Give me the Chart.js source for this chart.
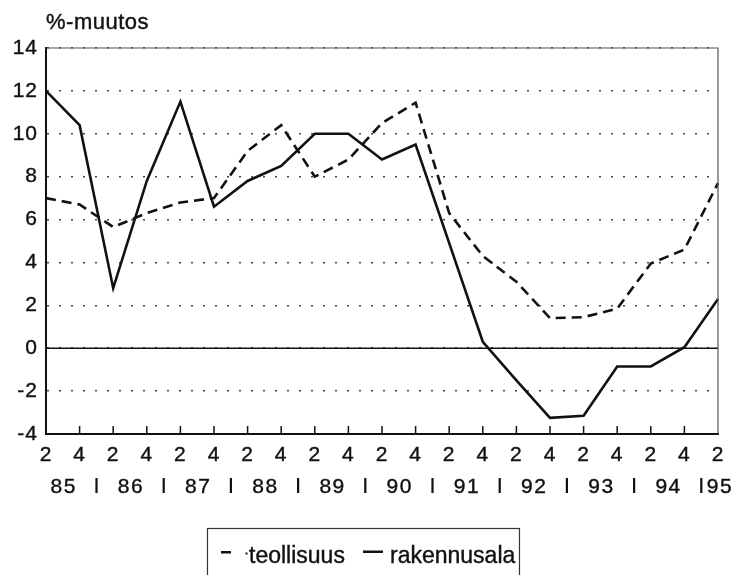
<!DOCTYPE html>
<html>
<head>
<meta charset="utf-8">
<script src="https://cdn.jsdelivr.net/npm/chart.js@4.4.1/dist/chart.umd.min.js"></script>
<style>
  html, body { margin: 0; padding: 0; background: #fff; }
  canvas { display: block; }
</style>
</head>
<body>
<canvas id="myChart" width="740" height="575"></canvas>
<script>
// half-year ticks, 85:2 ... 95:2
const quarters = ['2','4','2','4','2','4','2','4','2','4','2','4','2','4','2','4','2','4','2','4','2'];
const years = ['85','86','87','88','89','90','91','92','93','94','95'];
const yTicks = [-4, -2, 0, 2, 4, 6, 8, 10, 12, 14];

const teollisuus = [7.0, 6.7, 5.65, 6.3, 6.8, 7.0, 9.2, 10.4, 8.0, 8.8, 10.5, 11.45, 6.3, 4.3, 3.1, 1.4, 1.45, 1.85, 3.95, 4.6, 7.7];
const rakennusala = [12.0, 10.4, 2.8, 7.8, 11.5, 6.6, 7.8, 8.5, 10.0, 10.0, 8.8, 9.5, 4.9, 0.3, -1.5, -3.25, -3.15, -0.85, -0.85, 0.05, 2.3];

const FONT = 'Liberation Sans, Arial, Helvetica, sans-serif';

const extras = {
    id: 'extras',
    beforeDraw(chart) {
        // the scanned original has wide, slightly heavy lettering
        chart.ctx.letterSpacing = '1px';
    },
    afterDraw(chart) {
        const ctx = chart.ctx;
        const area = chart.chartArea;
        const xs = chart.scales.x;
        const ys = chart.scales.y;
        ctx.save();
        // zero line
        const y0 = ys.getPixelForValue(0);
        ctx.strokeStyle = '#111';
        ctx.lineWidth = 1.5;
        ctx.beginPath();
        ctx.moveTo(area.left, y0);
        ctx.lineTo(area.right, y0);
        ctx.stroke();
        // top and right frame
        ctx.strokeStyle = '#555';
        ctx.lineWidth = 1.2;
        ctx.beginPath();
        ctx.moveTo(area.left, area.top);
        ctx.lineTo(area.right, area.top);
        ctx.lineTo(area.right, area.bottom);
        ctx.stroke();
        // small tick marks pointing up into the plot
        ctx.strokeStyle = '#111';
        ctx.lineWidth = 1.5;
        for (let i = 1; i < quarters.length - 1; i++) {
            const px = xs.getPixelForValue(i);
            ctx.beginPath();
            ctx.moveTo(px, area.bottom);
            ctx.lineTo(px, area.bottom - 8);
            ctx.stroke();
        }
        // year row
        ctx.fillStyle = '#111';
        ctx.strokeStyle = '#111';
        ctx.lineWidth = 0.4;
        ctx.font = '21px ' + FONT;
        ctx.letterSpacing = '1.5px';
        ctx.textAlign = 'left';
        ctx.textBaseline = 'alphabetic';
        const yr = 493;
        years.forEach((label, k) => {
            const a = 2 * k, b = 2 * k + 1;
            let cx;
            if (b < quarters.length) {
                cx = (xs.getPixelForValue(a) + xs.getPixelForValue(b)) / 2;
            } else {
                cx = xs.getPixelForValue(a) + 1;
            }
            const w = ctx.measureText(label).width;
            ctx.fillText(label, cx - w / 2 + 1, yr);
            ctx.strokeText(label, cx - w / 2 + 1, yr);
            if (b + 1 < quarters.length) {
                const sx = (xs.getPixelForValue(b) + xs.getPixelForValue(b + 1)) / 2;
                ctx.fillRect(sx - 1, yr - 15, 2.2, 15);
            }
        });
        // title
        ctx.font = '22px ' + FONT;
        ctx.letterSpacing = '0.5px';
        ctx.fillText('%-muutos', 46, 29);
        ctx.strokeText('%-muutos', 46, 29);
        // legend box
        ctx.lineWidth = 1.2;
        ctx.strokeStyle = '#333';
        ctx.strokeRect(207.5, 528.5, 312, 60);
        const ly = 552;
        ctx.fillRect(221, ly - 1, 10, 2.5);
        ctx.fillRect(245.5, ly + 0.5, 2, 2);
        ctx.font = '23px ' + FONT;
        ctx.letterSpacing = '0px';
        ctx.strokeStyle = '#111';
        ctx.lineWidth = 0.4;
        ctx.fillText('teollisuus', 249, 563);
        ctx.strokeText('teollisuus', 249, 563);
        ctx.fillRect(363, ly - 1.5, 20, 2.5);
        ctx.fillText('rakennusala', 390, 563);
        ctx.strokeText('rakennusala', 390, 563);
        ctx.restore();
        ctx.letterSpacing = '0px';
    }
};

const ctx = document.getElementById('myChart').getContext('2d');
new Chart(ctx, {
    type: 'line',
    data: {
        labels: quarters,
        datasets: [{
            label: 'teollisuus',
            data: teollisuus,
            borderColor: '#111',
            borderWidth: 2.6,
            borderDash: [10, 6],
            pointRadius: 0,
            tension: 0,
            fill: false
        }, {
            label: 'rakennusala',
            data: rakennusala,
            borderColor: '#111',
            borderWidth: 2.6,
            pointRadius: 0,
            tension: 0,
            fill: false
        }]
    },
    options: {
        responsive: false,
        animation: false,
        layout: { padding: { top: 48, right: 22, left: 0, bottom: 0 } },
        plugins: {
            legend: { display: false },
            tooltip: { enabled: false }
        },
        scales: {
            x: {
                type: 'category',
                offset: false,
                grid: { display: false, drawTicks: false },
                border: { display: true, color: '#111', width: 2 },
                ticks: {
                    color: '#111',
                    font: { family: FONT, size: 21 },
                    textStrokeColor: '#111',
                    textStrokeWidth: 0.4,
                    padding: 9,
                    autoSkip: false,
                    maxRotation: 0
                },
                afterFit(s) { s.height = 141; }
            },
            y: {
                min: -4,
                max: 14,
                grid: { color: '#444', lineWidth: 1.5, drawTicks: false },
                border: { display: true, color: '#111', width: 2, dash: [2, 10] },
                ticks: {
                    stepSize: 2,
                    color: '#111',
                    font: { family: FONT, size: 21 },
                    textStrokeColor: '#111',
                    textStrokeWidth: 0.4,
                    padding: 8,
                    callback: (v) => yTicks.includes(v) ? String(v) : ''
                },
                afterFit(s) { s.width = 46; }
            }
        }
    },
    plugins: [extras]
});
</script>
</body>
</html>
